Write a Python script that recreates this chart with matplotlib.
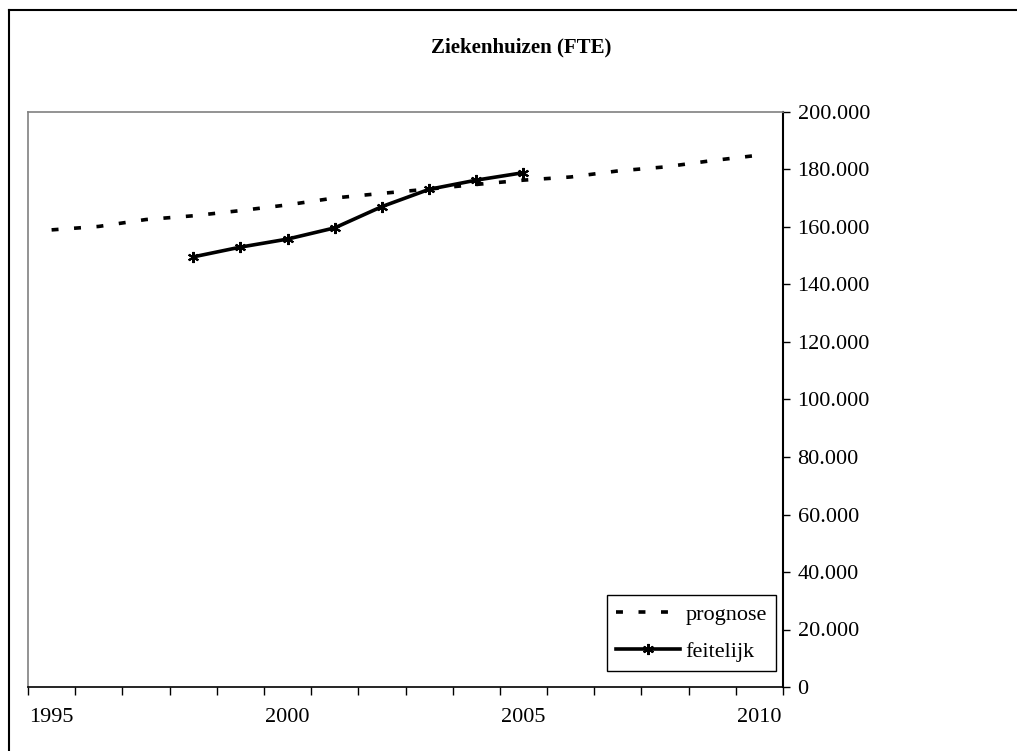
import numpy as np
import matplotlib.pyplot as plt
from matplotlib.ticker import FuncFormatter
from matplotlib.lines import Line2D

plt.rcParams['font.family'] = ['Liberation Serif', 'DejaVu Serif']
plt.rcParams['lines.scale_dashes'] = False

# ziekenhuispersoneel in FTE
prognose_jaren = list(range(1995, 2011))
prognose = [159000, 160200, 162600, 163900, 165700, 167700, 170100, 171700,
            173200, 174800, 176300, 177400, 179500, 180900, 183100, 185000]

feitelijk_jaren = list(range(1998, 2006))
feitelijk = [149600, 153000, 155800, 159700, 167100, 173100, 176300, 178900]

fig = plt.figure(figsize=(10.17, 7.51), dpi=100)
ax = fig.add_axes([28 / 1017, 64 / 751, 755 / 1017, 575 / 751])

ax.plot(prognose_jaren, prognose, color='black', lw=2.6,
        dashes=(5, 11.2), label='prognose')
ax.plot(feitelijk_jaren, feitelijk, color='black', lw=2.6,
        marker=(6, 2, 0), markersize=8, markeredgewidth=1.5,
        label='feitelijk')

ax.set_xlim(1994.5, 2010.5)
ax.set_ylim(0, 200000)

# categorie-as: streepjes tussen de jaren, labels om de vijf jaar
ax.set_xticks(np.arange(1994.5, 2011, 1.0))
ax.set_xticklabels([])
ax.tick_params(axis='x', which='major', direction='out', length=6,
               width=1, color='black')
ax.set_xticks([1995, 2000, 2005, 2010], minor=True)
ax.set_xticklabels(['1995', '2000', '2005', '2010'], minor=True)
ax.tick_params(axis='x', which='minor', length=0, pad=15, labelsize=16)

ax.yaxis.tick_right()
ax.set_yticks(np.arange(0, 200001, 20000))
ax.yaxis.set_major_formatter(FuncFormatter(
    lambda v, p: f'{int(v):,}'.replace(',', '.')))
ax.tick_params(axis='y', direction='out', length=5, width=1,
               pad=5.5, labelsize=16, color='black')

for side in ['left', 'top']:
    ax.spines[side].set_color('#808080')
    ax.spines[side].set_linewidth(1.2)
ax.spines['bottom'].set_color('black')
ax.spines['bottom'].set_linewidth(1.2)
ax.spines['right'].set_color('black')
ax.spines['right'].set_linewidth(1.5)

fig.text(521 / 1017, 1 - 47 / 751, 'Ziekenhuizen (FTE)', ha='center',
         va='center', fontsize=15, fontweight='bold')

leg = ax.legend(loc='lower right', bbox_to_anchor=(748 / 755, 16 / 575),
                borderaxespad=0, fontsize=16, handlelength=2.9,
                handletextpad=0.25, labelspacing=0.75, borderpad=0.4,
                numpoints=1, fancybox=False, framealpha=1,
                edgecolor='black')
leg.get_frame().set_linewidth(1.0)

# kader rond de grafiek (links en boven)
x0 = 9 / 1017
y0 = 1 - 10 / 751
fig.add_artist(Line2D([x0, x0], [0, y0], transform=fig.transFigure,
                      color='black', lw=1.5))
fig.add_artist(Line2D([x0, 1], [y0, y0], transform=fig.transFigure,
                      color='black', lw=1.5))

fig.savefig('out.png', dpi=100)
